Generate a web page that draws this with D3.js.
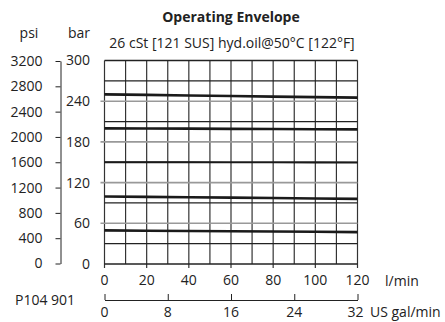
<!DOCTYPE html>
<html><head><meta charset="utf-8">
<script src="https://cdn.jsdelivr.net/npm/d3@7"></script>
<style>
html,body{margin:0;padding:0;background:#fff;}
svg text{font-family:"Open Sans",sans-serif;fill:#222;}
</style></head>
<body><svg id="c" width="445" height="322"></svg>
<script>
const flowLpm = [0, 20, 40, 60, 80, 100, 120];
const curve1 = [250, 249.3, 248.5, 247.7, 246.8, 246, 245.2];
const curve2 = [200, 199.8, 199.5, 199.2, 199, 198.7, 198.5];
const curve3 = [150, 150, 150, 149.8, 149.7, 149.6, 149.5];
const curve4 = [99.5, 99, 98.4, 97.8, 97.2, 96.6, 96];
const curve5 = [49.5, 49.1, 48.7, 48.3, 47.9, 47.5, 47];
const barTicks = [0, 60, 120, 180, 240, 300];
const barMinor = [30, 90, 150, 210, 270];
const psiTicks = [0, 400, 800, 1200, 1600, 2000, 2400, 2800, 3200];
const lpmTicks = [0, 20, 40, 60, 80, 100, 120];
const lpmGrid = [0,10,20,30,40,50,60,70,80,90,100,110,120];
const gpmTicks = [0, 8, 16, 24, 32];
const title = "Operating Envelope";
const subtitle = "26 cSt [121 SUS] hyd.oil@50°C [122°F]";

const svg = d3.select("#c");
const x = d3.scaleLinear().domain([0,120]).range([104.5,357.5]);
const y = d3.scaleLinear().domain([0,300]).range([264,60.5]);
const yPsi = d3.scaleLinear().domain([0,3200]).range([263.5,61]);
const xG = d3.scaleLinear().domain([0,32]).range([104.5,357.5]);

// vertical grid
svg.append("g").selectAll("line").data(lpmGrid).join("line")
  .attr("x1",d=>x(d)).attr("x2",d=>x(d))
  .attr("y1",y(300)).attr("y2",d=>d%20===0? y(0)+4 : y(0))
  .attr("stroke","#333").attr("stroke-width",1.2);
// minor horizontal (black)
svg.append("g").selectAll("line").data([0,300].concat(barMinor)).join("line")
  .attr("x1",x(0)).attr("x2",x(120))
  .attr("y1",d=>y(d)).attr("y2",d=>y(d))
  .attr("stroke","#222").attr("stroke-width",1.3);
// labeled horizontal (gray)
svg.append("g").selectAll("line").data(barTicks.filter(d=>d>0&&d<300)).join("line")
  .attr("x1",x(0)-4).attr("x2",x(120))
  .attr("y1",d=>y(d)).attr("y2",d=>y(d))
  .attr("stroke","#999").attr("stroke-width",1.6);
// bar labels
svg.append("g").selectAll("text").data(barTicks).join("text")
  .attr("x",90).attr("y",d=>y(d)).attr("dy","0.35em")
  .attr("text-anchor","end").attr("font-size",14).text(d=>d);

// curves
const line = d3.line().x((d,i)=>x(flowLpm[i])).y(d=>y(d));
[[curve1,2.6],[curve2,2.6],[curve3,1.8],[curve4,2.6],[curve5,2.6]].forEach(([c,w])=>{
  svg.append("path").attr("d",line(c)).attr("fill","none")
    .attr("stroke","#1a1a1a").attr("stroke-width",w);
});

// psi axis
const psiAxis = d3.axisLeft(yPsi).tickValues(psiTicks).tickSize(5).tickPadding(13)
  .tickSizeOuter(0).tickFormat(d3.format("d"));
const gp = svg.append("g").attr("transform","translate(60.5,0)").call(psiAxis);
gp.select(".domain").attr("stroke","#222");
gp.selectAll(".tick line").attr("stroke","#222");
gp.selectAll("text").attr("font-size",14).attr("font-family","Open Sans").attr("fill","#222");

// x labels
svg.append("g").selectAll("text").data(lpmTicks).join("text")
  .attr("x",d=>x(d)).attr("y",285).attr("text-anchor","middle")
  .attr("font-size",14).text(d=>d);
svg.append("text").attr("x",385).attr("y",286).attr("font-size",14).text("l/min");

// gpm axis
const gAxis = d3.axisTop(xG).tickValues(gpmTicks).tickSize(6).tickFormat("").tickSizeOuter(0);
const gg = svg.append("g").attr("transform","translate(0,300)").call(gAxis);
gg.select(".domain").attr("stroke","#222");
gg.selectAll(".tick line").attr("stroke","#222");
svg.append("g").selectAll("text").data(gpmTicks).join("text")
  .attr("x",d=>xG(d)-(d===32?2:0)).attr("y",317).attr("text-anchor","middle")
  .attr("font-size",14).text(d=>d);
svg.append("text").attr("x",370).attr("y",317).attr("font-size",14).text("US gal/min");
svg.append("text").attr("x",15).attr("y",305).attr("font-size",14).text("P104 901");

// titles
svg.append("text").attr("x",231).attr("y",22).attr("text-anchor","middle")
  .attr("font-size",14).attr("font-weight","bold").text(title);
svg.append("text").attr("x",232).attr("y",48).attr("text-anchor","middle")
  .attr("font-size",14).text(subtitle);
svg.append("text").attr("x",29).attr("y",38).attr("text-anchor","middle").attr("font-size",14).text("psi");
svg.append("text").attr("x",79).attr("y",38).attr("text-anchor","middle").attr("font-size",14).text("bar");
</script></body></html>
